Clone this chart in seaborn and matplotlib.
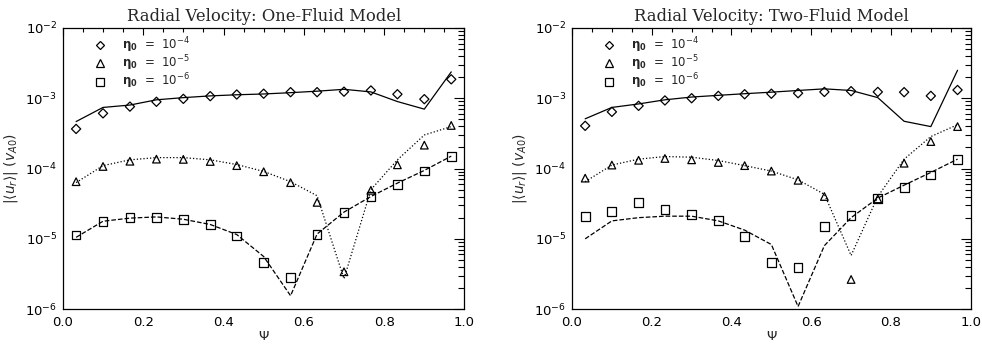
import numpy as np
import pandas as pd
import matplotlib
matplotlib.use("Agg")
import matplotlib.pyplot as plt
import seaborn as sns
from matplotlib.ticker import MultipleLocator, LogLocator, NullFormatter
from matplotlib.lines import Line2D

# ---------------- data ----------------
psi = [0.033, 0.1, 0.167, 0.233, 0.3, 0.367, 0.433, 0.5, 0.567, 0.633,
       0.7, 0.767, 0.833, 0.9, 0.967]

# One-fluid model
one_pts_e4 = [3.66e-4, 6.1e-4, 7.6e-4, 8.9e-4, 9.8e-4, 1.07e-3, 1.13e-3, 1.16e-3,
              1.22e-3, 1.22e-3, 1.24e-3, 1.29e-3, 1.14e-3, 9.7e-4, 1.86e-3]
one_line_e4 = [4.66e-4, 7.4e-4, 8.0e-4, 9.5e-4, 1.02e-3, 1.08e-3, 1.12e-3, 1.15e-3,
               1.2e-3, 1.26e-3, 1.34e-3, 1.23e-3, 8.97e-4, 7.0e-4, 2.37e-3]
one_pts_e5 = [6.5e-5, 1.07e-4, 1.27e-4, 1.36e-4, 1.35e-4, 1.26e-4, 1.1e-4, 9.0e-5,
              6.3e-5, 3.3e-5, 3.4e-6, 4.9e-5, 1.13e-4, 2.15e-4, 4.1e-4]
one_line_e5 = [6.3e-5, 1.1e-4, 1.33e-4, 1.43e-4, 1.43e-4, 1.33e-4, 1.14e-4, 9.1e-5,
               6.5e-5, 4.1e-5, 2.7e-6, 5.0e-5, 1.33e-4, 3.0e-4, 3.95e-4]
one_pts_e6 = [1.13e-5, 1.78e-5, 2.03e-5, 2.03e-5, 1.88e-5, 1.58e-5, 1.1e-5, 4.66e-6,
              2.79e-6, 1.16e-5, 2.37e-5, 3.95e-5, 5.98e-5, 9.2e-5, 1.47e-4]
one_line_e6 = [1.05e-5, 1.78e-5, 1.97e-5, 2.05e-5, 1.9e-5, 1.6e-5, 1.15e-5, 5.6e-6,
               1.55e-6, 1.17e-5, 2.4e-5, 4.0e-5, 6.2e-5, 9.4e-5, 1.5e-4]

# Two-fluid model
two_pts_e4 = [4.05e-4, 6.4e-4, 7.8e-4, 9.3e-4, 1.0e-3, 1.08e-3, 1.14e-3, 1.16e-3,
              1.18e-3, 1.23e-3, 1.26e-3, 1.23e-3, 1.22e-3, 1.08e-3, 1.31e-3]
two_line_e4 = [5.1e-4, 7.4e-4, 8.3e-4, 9.5e-4, 1.04e-3, 1.1e-3, 1.16e-3, 1.22e-3,
               1.29e-3, 1.36e-3, 1.29e-3, 1.02e-3, 4.7e-4, 3.95e-4, 2.5e-3]
two_pts_e5 = [7.3e-5, 1.12e-4, 1.31e-4, 1.39e-4, 1.33e-4, 1.22e-4, 1.1e-4, 9.2e-5,
              6.8e-5, 4.0e-5, 2.64e-6, 3.7e-5, 1.19e-4, 2.42e-4, 3.95e-4]
two_line_e5 = [6.5e-5, 1.12e-4, 1.36e-4, 1.48e-4, 1.45e-4, 1.3e-4, 1.1e-4, 9.2e-5,
               6.9e-5, 4.3e-5, 5.8e-6, 4.0e-5, 1.36e-4, 2.85e-4, 4.2e-4]
two_pts_e6 = [2.08e-5, 2.47e-5, 3.3e-5, 2.61e-5, 2.22e-5, 1.8e-5, 1.07e-5, 4.56e-6,
              3.95e-6, 1.48e-5, 2.15e-5, 3.7e-5, 5.4e-5, 8.1e-5, 1.33e-4]
two_line_e6 = [1.0e-5, 1.8e-5, 2.0e-5, 2.1e-5, 2.1e-5, 1.8e-5, 1.33e-5, 8.3e-6,
               1.09e-6, 8.0e-6, 2.0e-5, 3.8e-5, 5.8e-5, 8.8e-5, 1.36e-4]

titles = ["Radial Velocity: One-Fluid Model", "Radial Velocity: Two-Fluid Model"]
legend_labels = [r"$\mathbf{\eta_0}$  =  $10^{-4}$",
                 r"$\mathbf{\eta_0}$  =  $10^{-5}$",
                 r"$\mathbf{\eta_0}$  =  $10^{-6}$"]
x_ticks = [0.0, 0.2, 0.4, 0.6, 0.8, 1.0]
x_ticklabels = ["0.0", "0.2", "0.4", "0.6", "0.8", "1.0"]

panels = [
    (one_pts_e4, one_line_e4, one_pts_e5, one_line_e5, one_pts_e6, one_line_e6),
    (two_pts_e4, two_line_e4, two_pts_e5, two_line_e5, two_pts_e6, two_line_e6),
]

# ---------------- style ----------------
sns.set_theme(style="white")
plt.rcParams["font.family"] = ["DejaVu Sans"]
plt.rcParams["mathtext.fontset"] = "dejavusans"

fig = plt.figure(figsize=(9.82, 3.45), dpi=100)
ax_pos = [[0.064, 0.104, 0.409, 0.815], [0.5825, 0.104, 0.406, 0.815]]

markers = ["D", "^", "s"]
msizes = [22, 30, 40]
linestyles = ["-", ":", "--"]

for k, (pos, data, title) in enumerate(zip(ax_pos, panels, titles)):
    ax = fig.add_axes(pos)
    for s in range(3):
        pts = data[2 * s]
        line = data[2 * s + 1]
        df = pd.DataFrame({"psi": psi, "pts": pts, "line": line})
        sns.lineplot(data=df, x="psi", y="line", ax=ax, color="black",
                     linewidth=0.9, linestyle=linestyles[s], estimator=None,
                     sort=False)
        sns.scatterplot(data=df, x="psi", y="pts", ax=ax, marker=markers[s],
                        s=msizes[s], facecolor="none", edgecolor="black",
                        linewidth=0.9, zorder=3)
    ax.set_yscale("log")
    ax.set_xlim(0, 1)
    ax.set_ylim(1e-6, 1e-2)
    ax.set_xticks(x_ticks)
    ax.set_xticklabels(x_ticklabels)
    ax.xaxis.set_minor_locator(MultipleLocator(0.05))
    ax.yaxis.set_major_locator(LogLocator(base=10, numticks=10))
    ax.yaxis.set_minor_locator(LogLocator(base=10, subs=np.arange(2, 10), numticks=20))
    ax.yaxis.set_minor_formatter(NullFormatter())
    ax.tick_params(which="both", direction="in", top=True, right=True,
                   colors="black", labelsize=9.5, width=0.8)
    ax.tick_params(which="major", axis="y", length=7, pad=4)
    ax.tick_params(which="minor", axis="y", length=4)
    ax.tick_params(which="major", axis="x", length=5, pad=5)
    ax.tick_params(which="minor", axis="x", length=3)
    for sp in ax.spines.values():
        sp.set_color("black")
        sp.set_linewidth(0.9)
    ax.set_title(title, family="DejaVu Serif", fontsize=11.8, pad=5)
    ax.set_xlabel(r"$\Psi$", fontsize=9.5, labelpad=1)
    ax.set_ylabel(r"$|\langle u_r\rangle|\ (v_{A0})$", fontsize=10, labelpad=4)
    handles = [Line2D([], [], marker=markers[s], linestyle="none",
                      markerfacecolor="none", markeredgecolor="black",
                      markersize=[4.3, 5.2, 6.0][s], markeredgewidth=0.9)
               for s in range(3)]
    ax.legend(handles, legend_labels, loc="upper left", frameon=False,
              fontsize=8.5, handletextpad=1.1, labelspacing=-0.12,
              handlelength=1.5, borderaxespad=0.0,
              bbox_to_anchor=(0.058, 0.99))

fig.savefig("out.png", dpi=100)
